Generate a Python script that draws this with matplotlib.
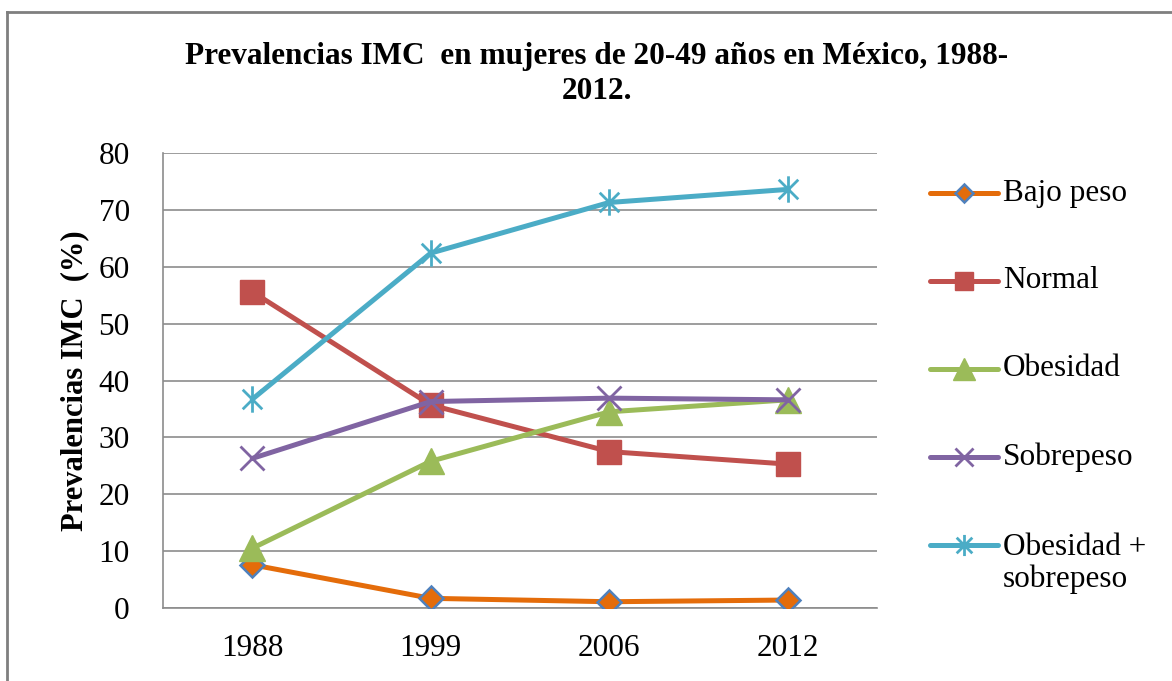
import matplotlib
matplotlib.use("Agg")
import matplotlib.pyplot as plt
from matplotlib.path import Path
from matplotlib.lines import Line2D

plt.rcParams["font.family"] = ["Liberation Serif", "DejaVu Serif"]

years = ["1988", "1999", "2006", "2012"]
bajo_peso = [7.6, 1.7, 1.1, 1.4]
normal = [55.6, 35.7, 27.5, 25.3]
obesidad = [10.5, 25.8, 34.5, 36.6]
sobrepeso = [26.3, 36.3, 36.9, 36.6]
obes_sobre = [36.7, 62.4, 71.3, 73.6]

labels = ["Bajo peso", "Normal", "Obesidad", "Sobrepeso", "Obesidad +\nsobrepeso"]

# Excel-style asterisk: an x plus a vertical bar
M, L = Path.MOVETO, Path.LINETO
STAR = Path([(-1, -1), (1, 1), (-1, 1), (1, -1), (0, -1.35), (0, 1.35)],
            [M, L, M, L, M, L])

styles = [
    dict(color="#E46C0A", marker="D", ms=12, mfc="#E46C0A", mec="#4F81BD", mew=1.8),
    dict(color="#C0504D", marker="s", ms=17, mfc="#C0504D", mec="#C0504D", mew=1),
    dict(color="#9BBB59", marker="^", ms=19, mfc="#9BBB59", mec="#9BBB59", mew=1),
    dict(color="#8064A2", marker="x", ms=17, mfc="#8064A2", mec="#8064A2", mew=2),
    dict(color="#4BACC6", marker=STAR, ms=19, mfc="#4BACC6", mec="#4BACC6", mew=2),
]
series = [bajo_peso, normal, obesidad, sobrepeso, obes_sobre]

W, H = 1172, 681
FS = 22.5
fig = plt.figure(figsize=(W / 100, H / 100), dpi=100)
fig.patch.set_facecolor("white")
ax = fig.add_axes([163 / W, 1 - 608 / H, (877 - 163) / W, (608 - 153) / H])

x = list(range(len(years)))
for vals, st in zip(series, styles):
    ax.plot(x, vals, lw=3.6, solid_capstyle="round", zorder=3, **st)

ax.set_xlim(-0.5, len(years) - 0.5)
ax.set_ylim(0, 80)
ax.set_yticks(range(0, 81, 10))
ax.set_xticks(x)
ax.set_xticklabels(years)
ax.yaxis.grid(True, color="#8C8C8C", lw=1.2)
ax.set_axisbelow(True)
ax.tick_params(length=0, labelsize=FS, colors="black")
ax.tick_params(axis="y", pad=24)
ax.tick_params(axis="x", pad=19)
for s in ("top", "right"):
    ax.spines[s].set_visible(False)
for s in ("left", "bottom"):
    ax.spines[s].set_color("#8C8C8C")
    ax.spines[s].set_linewidth(1.2)

fig.text(75 / W, 1 - 381 / H, "Prevalencias IMC  (%)", rotation=90, ha="center",
         va="center", fontsize=22, fontweight="bold")

fig.text(597 / W, 1 - 74 / H,
         "Prevalencias IMC  en mujeres de 20-49 años en México, 1988-\n2012.",
         ha="center", va="center", fontsize=22.5, fontweight="bold", linespacing=1.28)

# legend drawn by hand so the two-line entry keeps its handle on the first line
leg_y = [193, 281, 369, 457, 545]
for y, lab, st in zip(leg_y, labels, styles):
    yy = 1 - y / H
    st2 = dict(st)
    st2["ms"] = st["ms"] * 0.8
    fig.add_artist(Line2D([930 / W, 964 / W, 998 / W], [yy] * 3, lw=3.6,
                          solid_capstyle="round", markevery=[1],
                          transform=fig.transFigure, **st2))
    if "\n" in lab:
        fig.text(1003 / W, yy + 12 / H, lab, ha="left", va="top",
                 fontsize=FS, linespacing=1.1)
    else:
        fig.text(1003 / W, yy, lab, ha="left", va="center", fontsize=FS)

# outer chart frame (top and left edges only are in view)
fig.add_artist(Line2D([7 / W, 1.0], [1 - 12 / H] * 2, color="#7F7F7F", lw=2,
                      transform=fig.transFigure))
fig.add_artist(Line2D([7 / W] * 2, [0, 1 - 12 / H], color="#7F7F7F", lw=2,
                      transform=fig.transFigure))

fig.savefig("out.png", dpi=100, facecolor="white")
